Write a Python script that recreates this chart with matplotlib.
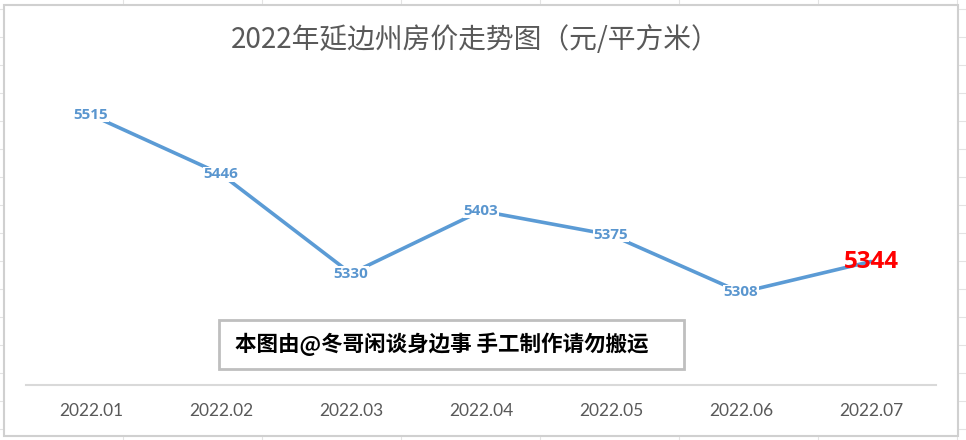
import matplotlib
matplotlib.use("Agg")
import matplotlib.pyplot as plt
from matplotlib.patches import Rectangle

# ── Data ──────────────────────────────────────────
months = ["2022.01", "2022.02", "2022.03", "2022.04", "2022.05", "2022.06", "2022.07"]
prices = [5515, 5446, 5330, 5403, 5375, 5308, 5344]
title = "2022年延边州房价走势图（元/平方米）"
watermark = "本图由@冬哥闲谈身边事 手工制作请勿搬运"

CJK = ["Noto Sans CJK SC", "DejaVu Sans"]
NUM = ["Lato", "DejaVu Sans"]
NUM_BOLD = ["Open Sans", "DejaVu Sans"]
LINE_C = "#5b9bd5"
GREY_TXT = "#595959"

W, H = 966, 440
fig = plt.figure(figsize=(W / 100, H / 100), dpi=100)

# background: spreadsheet cells + chart frame (pixel coords)
bg = fig.add_axes([0, 0, 1, 1])
bg.set_xlim(0, W)
bg.set_ylim(H, 0)
bg.axis("off")
for y in range(9, H, 28):
    bg.plot([0, W], [y, y], color="#e3e3e3", lw=0.8, zorder=0)
for x in range(123, W + 1, 139):
    bg.plot([x, x], [0, H], color="#e3e3e3", lw=0.8, zorder=0)
bg.add_patch(Rectangle((4, 5), 954, 431, facecolor="white",
                       edgecolor="#d0d0d0", lw=1.5, zorder=1))
# watermark box
bg.add_patch(Rectangle((219, 320), 465, 49, facecolor="white",
                       edgecolor="#bfbfbf", lw=2, zorder=2))
bg.text(235, 344, watermark, ha="left", va="center", fontsize=15.5,
        fontweight="bold", color="black", family=CJK, zorder=3)

# main plot
ax = fig.add_axes([26 / W, (H - 385) / H, 910 / W, (385 - 42) / H])
ax.patch.set_alpha(0)
x = list(range(len(months)))
ax.plot(x, prices, color=LINE_C, lw=2.6, solid_capstyle="round", zorder=3)
ax.set_xlim(-0.5, len(months) - 0.5)
ax.set_ylim(5200, 5600)

for i, v in enumerate(prices):
    last = i == len(prices) - 1
    ax.text(i, v, str(v), ha="center", va="center",
            fontsize=17.5 if last else 11, fontweight="bold",
            color="#ff0000" if last else "#5a96cf", family=NUM_BOLD, zorder=4,
            bbox=None if last else dict(facecolor="white", edgecolor="none", pad=0.3))

for s in ["top", "left", "right"]:
    ax.spines[s].set_visible(False)
ax.spines["bottom"].set_color("#d9d9d9")
ax.spines["bottom"].set_linewidth(1.5)
ax.set_yticks([])
ax.set_xticks(x)
ax.set_xticklabels(months, fontsize=12.5, color=GREY_TXT, family=NUM)
ax.tick_params(axis="x", length=0, pad=13)

fig.text(475 / W, 1 - 40 / H, title, ha="center", va="center",
         fontsize=20, color=GREY_TXT, family=CJK)

fig.savefig("out.png", dpi=100)
